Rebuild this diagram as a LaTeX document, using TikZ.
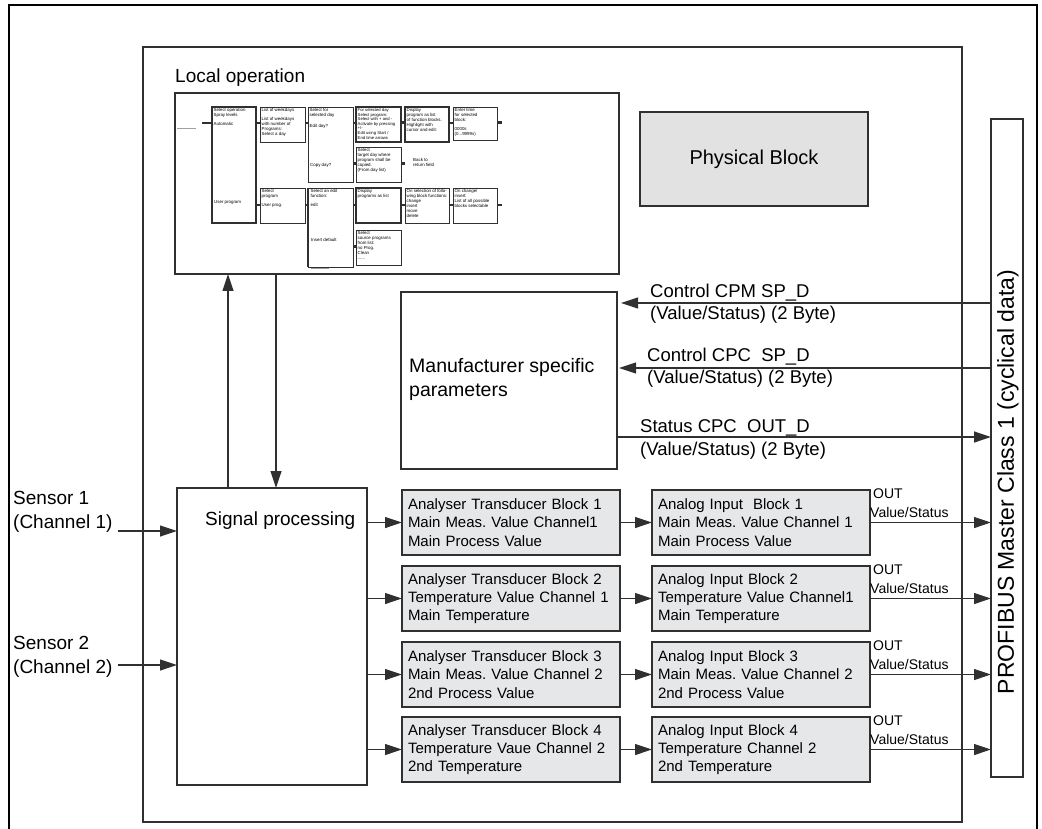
\documentclass[tikz,border=0pt]{standalone}
\usepackage{fontspec}
\setmainfont{Liberation Sans}
\usetikzlibrary{arrows.meta,calc}
\definecolor{linec}{HTML}{303030}
\definecolor{blockfill}{HTML}{E6E7E8}
\definecolor{physfill}{HTML}{E2E2E2}
\definecolor{faint}{HTML}{A0A0A0}
\frenchspacing
\begin{document}
\frenchspacing
\begin{tikzpicture}[x=1pt,y=-1pt,
  arr/.style={draw=linec, line width=1.2pt, -{Triangle[length=17pt,width=11pt]}},
  bigbox/.style={draw=linec, line width=1.4pt, inner sep=0pt, outer sep=0pt, anchor=north west},
  blk/.style={draw=linec, line width=1.4pt, fill=blockfill, outer sep=0pt, anchor=north west,
    minimum width=218pt, minimum height=65pt, inner xsep=6pt, inner ysep=0pt, text width=206pt,
    align=left, font=\fontsize{15}{18.3}\selectfont},
  mb/.style={draw=linec, line width=0.8pt, inner sep=0pt, outer sep=0pt, anchor=north west},
  mbk/.style={mb, line width=1.6pt},
  mt/.style={font=\fontsize{4.4}{4.9}\selectfont, align=left, anchor=north west, inner sep=0pt},
  mc/.style={draw=linec, line width=1.6pt},
  msq/.style={draw=linec, line width=3pt},
  biglbl/.style={font=\fontsize{19}{24}\selectfont, inner sep=0pt},
  alb/.style={font=\fontsize{18.5}{22}\selectfont, inner sep=0pt, anchor=west},
  olb/.style={font=\fontsize{14}{17}\selectfont, inner sep=0pt, anchor=west}
]
\useasboundingbox (0,0) rectangle (1042,829);
% outer frame
\draw[black, line width=1.2pt] (9,829) -- (9,5) -- (1037,5) -- (1037,829);
% main box
\node[bigbox, minimum width=819pt, minimum height=775pt] (main) at (143,47) {};

% local operation
\node[biglbl, anchor=base west] (lol) at (175,83) {Local operation};
\node[bigbox, minimum width=444pt, minimum height=181pt] (lo) at (175,93) {};

% mini diagram boxes
\node[mbk, minimum width=44pt, minimum height=116pt] (m1) at (212,107) {};
\node[mb, minimum width=45pt, minimum height=35pt] (m2) at (260,107) {};
\node[mb, minimum width=45pt, minimum height=75pt] (m3) at (308,107) {};
\node[mbk, minimum width=45pt, minimum height=35pt] (m4) at (356,107) {};
\node[mbk, minimum width=44pt, minimum height=35pt] (m5) at (405,107) {};
\node[mb, minimum width=44pt, minimum height=33pt] (m6) at (453,107) {};
\node[mb, minimum width=45pt, minimum height=35pt] (m7) at (356,147) {};
\node[mb, minimum width=45pt, minimum height=35pt] (m8) at (260,188) {};
\node[mb, minimum width=45pt, minimum height=79pt] (m9) at (308,188) {};
\node[mbk, minimum width=45pt, minimum height=35pt] (m10) at (356,188) {};
\node[mb, minimum width=44pt, minimum height=35pt] (m11) at (405,188) {};
\node[mb, minimum width=44pt, minimum height=35pt] (m12) at (453,188) {};
\node[mb, minimum width=45pt, minimum height=35pt] (m13) at (356,230) {};
\draw[linec, line width=1.6pt] (m9.north west) -- (m9.south west);

% mini texts
\node[mt] (t1) at ($(m1.north west)+(1.5,1.5)$) {Select operation\\Spray levels\\[4pt]Automatic};
\node[mt] (t1b) at (214,200) {User program};
\node[mt] (t2) at ($(m2.north west)+(1.5,1.5)$) {List of weekdays\\[4pt]List of weekdays\\with number of\\Programs:\\Select a day};
\node[mt] (t3) at ($(m3.north west)+(1.5,1.5)$) {Select for\\selected day\\[6pt]Edit day?};
\node[mt] (t3b) at (310,163) {Copy day?};
\node[mt, font=\fontsize{4.2}{4.6}\selectfont] (t4) at ($(m4.north west)+(1.5,1.2)$) {For selected day\\Select program:\\Select with + and -\\Activate by pressing\\+/-\\Edit using Start /\\End time arrows};
\node[mt] (t5) at ($(m5.north west)+(1.5,1.2)$) {Display\\program as list\\of function blocks.\\Highlight with\\cursor and edit:};
\node[mt] (t6) at ($(m6.north west)+(1.5,1.2)$) {Enter time\\for selected\\block:\\[4pt]0000s\\(0...9999s)};
\node[mt] (t7) at ($(m7.north west)+(1.5,1.5)$) {Select\\target day where\\program shall be\\copied.\\(From day list)};
\node[mt] (t7b) at (413,158) {Back to\\return field};
\node[mt] (t8) at ($(m8.north west)+(1.5,1.5)$) {Select\\program\\[4pt]User prog.};
\node[mt] (t9) at ($(m9.north west)+(2.5,1.5)$) {Select an edit\\function:\\[4pt]edit};
\node[mt] (t9b) at (311,238) {Insert default};
\node[mt] (t10) at ($(m10.north west)+(1.5,1.5)$) {Display\\programs as list};
\node[mt] (t11) at ($(m11.north west)+(1.5,1.2)$) {On selection of follo-\\wing block functions:\\change\\insert\\move\\delete};
\node[mt] (t12) at ($(m12.north west)+(1.5,1.2)$) {On change/\\insert:\\List of all possible\\blocks selectable};
\node[mt] (t13) at ($(m13.north west)+(1.5,1.2)$) {Select\\source programs\\from list:\\no Prog.\\Clean\\......};

% mini connectors
\coordinate (mi0) at (177,128);
\coordinate (mi1) at (196,128);
\coordinate (mi2) at (202,123);
\coordinate (r1) at (0,123);
\coordinate (r2) at (0,205);
\coordinate (r3) at (0,164);
\coordinate (r4) at (0,247);
\coordinate (e1) at (502,123);
\coordinate (e2) at (502,205);
\coordinate (bk) at (405,164);
\draw[faint, line width=0.6pt] (mi0) -- (mi1);
\draw[mc] (mi2) -- (m1.west |- r1);
\draw[mc] (m1.east |- r1) -- (m2.west |- r1);
\draw[mc] (m2.east |- r1) -- (m3.west |- r1);
\draw[mc] (m3.east |- r1) -- (m4.west |- r1);
\draw[msq] (m4.east |- r1) -- (m5.west |- r1);
\draw[mc] (m5.east |- r1) -- (m6.west |- r1);
\draw[msq] (m6.east |- r1) -- (e1);
\draw[msq] (m3.east |- r3) -- (m7.west |- r3);
\draw[msq] (m7.east |- r3) -- (bk);
\draw[mc] (m1.east |- r2) -- (m8.west |- r2);
\draw[mc] (m8.east |- r2) -- (m9.west |- r2);
\draw[mc] (m9.east |- r2) -- (m10.west |- r2);
\draw[mc] (m10.east |- r2) -- (m11.west |- r2);
\draw[mc] (m11.east |- r2) -- (m12.west |- r2);
\draw[mc] (m12.east |- r2) -- (e2);
\draw[msq] (m9.east |- r4) -- (m13.west |- r4);
\coordinate (fl0) at (311,268);
\coordinate (fl1) at (329,268);
\draw[faint, line width=0.5pt] (fl0) -- (fl1);

% physical block
\node[bigbox, fill=physfill, minimum width=228pt, minimum height=94pt, font=\fontsize{20}{24}\selectfont] (phys) at (640,112) {Physical Block};

% PROFIBUS
\node[bigbox, minimum width=32pt, minimum height=658pt] (pb) at (991,119) {};
\node[biglbl, font=\fontsize{23}{26}\selectfont, rotate=90] (pbt) at (1008,482) {PROFIBUS Master Class 1 (cyclical data)};

% manufacturer box
\node[bigbox, minimum width=216pt, minimum height=177pt] (mf) at (401,292) {};
\node[biglbl, font=\fontsize{19.5}{24}\selectfont, align=left, anchor=west] (mft) at (409,379) {Manufacturer specific\\parameters};

% arrows manuf <-> profibus
\coordinate (y1) at (0,303);
\coordinate (y2) at (0,368);
\coordinate (y3) at (0,437);
\draw[arr] (pb.west |- y1) -- ($(mf.east |- y1)+(4,0)$);
\draw[arr] (pb.west |- y2) -- ($(mf.east |- y2)+(2,0)$);
\draw[arr] (mf.east |- y3) -- (pb.west |- y3);
\node[alb] (l1a) at (650,293) {Control CPM SP\_D};
\node[alb] (l1b) at (650,315) {(Value/Status) (2 Byte)};
\node[alb] (l2a) at (647,357) {Control CPC\ \ SP\_D};
\node[alb] (l2b) at (647,379) {(Value/Status) (2 Byte)};
\node[alb] (l3a) at (640,428) {Status CPC\ \ OUT\_D};
\node[alb] (l3b) at (640,451) {(Value/Status) (2 Byte)};

% signal processing
\node[bigbox, minimum width=190pt, minimum height=297pt] (sp) at (177,488) {};
\node[biglbl, anchor=base west] (spt) at (205,525) {Signal processing};

% vertical arrows
\coordinate (vx1) at (228,0);
\coordinate (vx2) at (276,0);
\draw[arr] (sp.north -| vx1) -- (lo.south -| vx1);
\draw[arr] (lo.south -| vx2) -- (sp.north -| vx2);

% sensors
\node[biglbl, align=left, anchor=base west] (s1) at (13,528) {Sensor 1\\(Channel 1)};
\node[biglbl, align=left, anchor=base west] (s2) at (13,673) {Sensor 2\\(Channel 2)};
\coordinate (s1e) at (118,531);
\coordinate (s2e) at (118,665);
\draw[arr] (s1e) -- (s1e -| sp.west);
\draw[arr] (s2e) -- (s2e -| sp.west);

% blocks
\node[blk] (tb1) at (402,490) {Analyser Transducer Block 1\\Main Meas. Value Channel1\\Main Process Value};
\node[blk] (tb2) at (402,566) {Analyser Transducer Block 2\\Temperature Value Channel 1\\Main Temperature};
\node[blk] (tb3) at (402,642) {Analyser Transducer Block 3\\Main Meas. Value Channel 2\\2nd Process Value};
\node[blk] (tb4) at (402,717) {Analyser Transducer Block 4\\Temperature Vaue Channel 2\\2nd Temperature};
\node[blk] (ai1) at (652,490) {Analog Input~ Block 1\\Main Meas. Value Channel 1\\Main Process Value};
\node[blk] (ai2) at (652,566) {Analog Input Block 2\\Temperature Value Channel1\\Main Temperature};
\node[blk] (ai3) at (652,642) {Analog Input Block 3\\Main Meas. Value Channel 2\\2nd Process Value};
\node[blk] (ai4) at (652,717) {Analog Input Block 4\\Temperature Channel 2\\2nd Temperature};

\foreach \i in {1,2,3,4}{
  \draw[arr] (sp.east |- tb\i.west) -- (tb\i.west);
  \draw[arr] (tb\i.east) -- (ai\i.west);
  \draw[arr] (ai\i.east) -- (pb.west |- ai\i.east);
  \node[olb] (o\i) at ($(ai\i.north east)+(3,4)$) {OUT};
  \node[olb] (v\i) at ($(ai\i.north east)+(0,22)$) {Value/Status};
}
\end{tikzpicture}
\end{document}
